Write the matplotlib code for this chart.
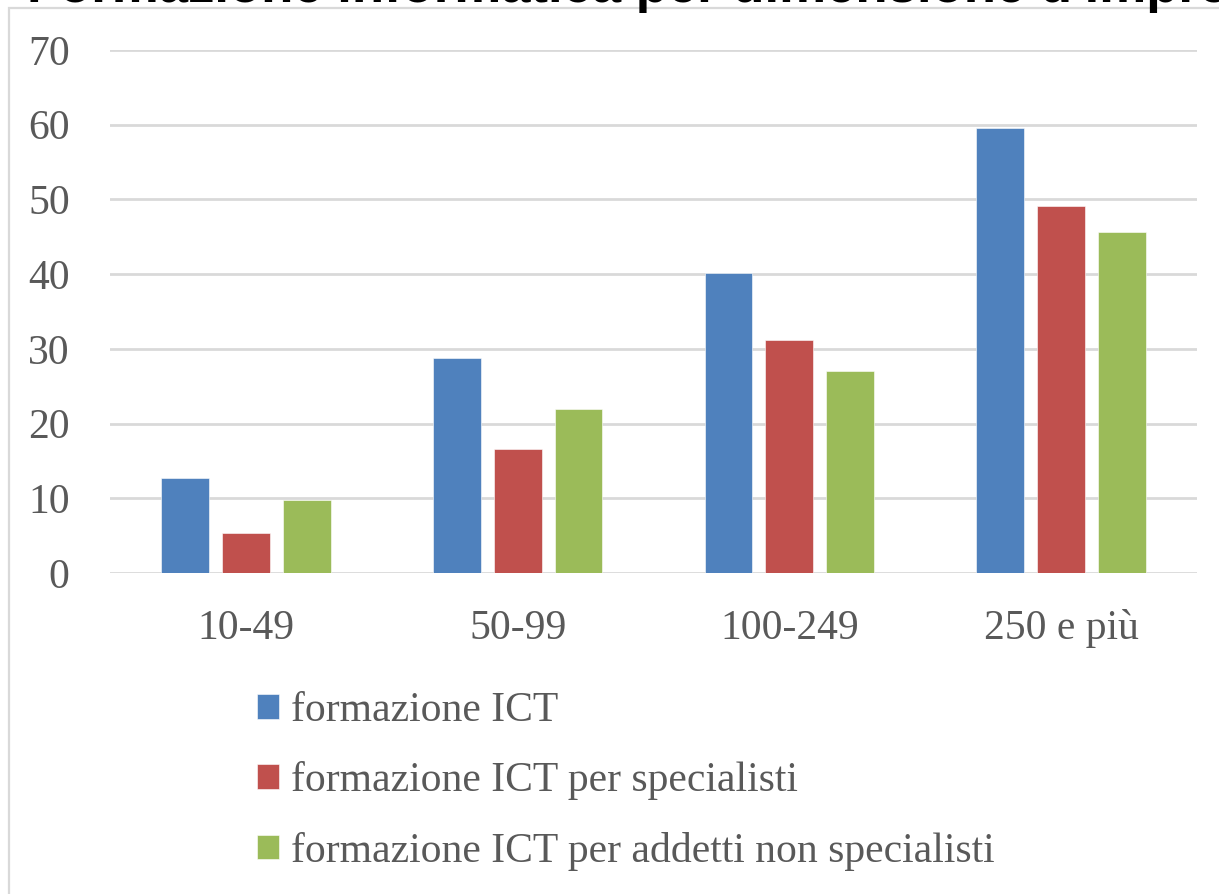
import numpy as np
import matplotlib.pyplot as plt
from matplotlib.patches import Rectangle

categories = ["10-49", "50-99", "100-249", "250 e più"]
series_names = [
    "formazione ICT",
    "formazione ICT per specialisti",
    "formazione ICT per addetti non specialisti",
]
formazione_ict = [12.7, 28.8, 40.2, 59.6]
ict_specialisti = [5.3, 16.6, 31.2, 49.1]
ict_non_specialisti = [9.8, 22.0, 27.0, 45.6]
colors = ["#4f81bd", "#c0504d", "#9bbb59"]
yticks = [0, 10, 20, 30, 40, 50, 60, 70]

W, H = 1219, 894
fig = plt.figure(figsize=(W / 100, H / 100), dpi=100)

# chart frame (runs off the right/bottom edge like the screenshot)
fig.patches.append(Rectangle((9 / W, -0.1), 1.2, 1 - 8 / H + 0.1,
                             transform=fig.transFigure, fill=False,
                             edgecolor="#d9d9d9", linewidth=1.6))

# title, cut off at the top in the original
fig.text(27 / W, 1 - 2 / H, "Formazione informatica per dimensione d'impresa",
         fontsize=38, fontweight="bold", family="Liberation Sans",
         va="baseline", ha="left", color="black")

ax = fig.add_axes([110 / W, 1 - 573 / H, (1197 - 110) / W, (573 - 50) / H])
x = np.arange(len(categories))
width = 0.176
step = 0.224
data = [formazione_ict, ict_specialisti, ict_non_specialisti]
for i, (vals, name) in enumerate(zip(data, series_names)):
    ax.bar(x + (i - 1) * step, vals, width, color=colors[i], label=name,
           zorder=3, edgecolor="white", linewidth=0.4)

ax.set_xlim(-0.5, len(categories) - 0.5)
ax.set_ylim(0, 70)
ax.set_yticks(yticks)
ax.set_xticks(x)
ax.set_xticklabels(categories)
ax.grid(axis="y", color="#d9d9d9", linewidth=2, zorder=0)
for s in ax.spines.values():
    s.set_visible(False)
ax.tick_params(axis="both", length=0, colors="#595959", labelsize=30)
ax.tick_params(axis="y", pad=29)
ax.tick_params(axis="x", pad=26)
for lab in ax.get_xticklabels() + ax.get_yticklabels():
    lab.set_family("Liberation Serif")

leg = fig.legend(loc="upper left", bbox_to_anchor=(240 / W, 1 - 675 / H),
                 frameon=False, prop={"family": "Liberation Serif", "size": 30},
                 handlelength=0.53, handleheight=0.53, handletextpad=0.3,
                 labelspacing=0.75, borderaxespad=0)
for t in leg.get_texts():
    t.set_color("#595959")

fig.savefig("out.png", dpi=100)
